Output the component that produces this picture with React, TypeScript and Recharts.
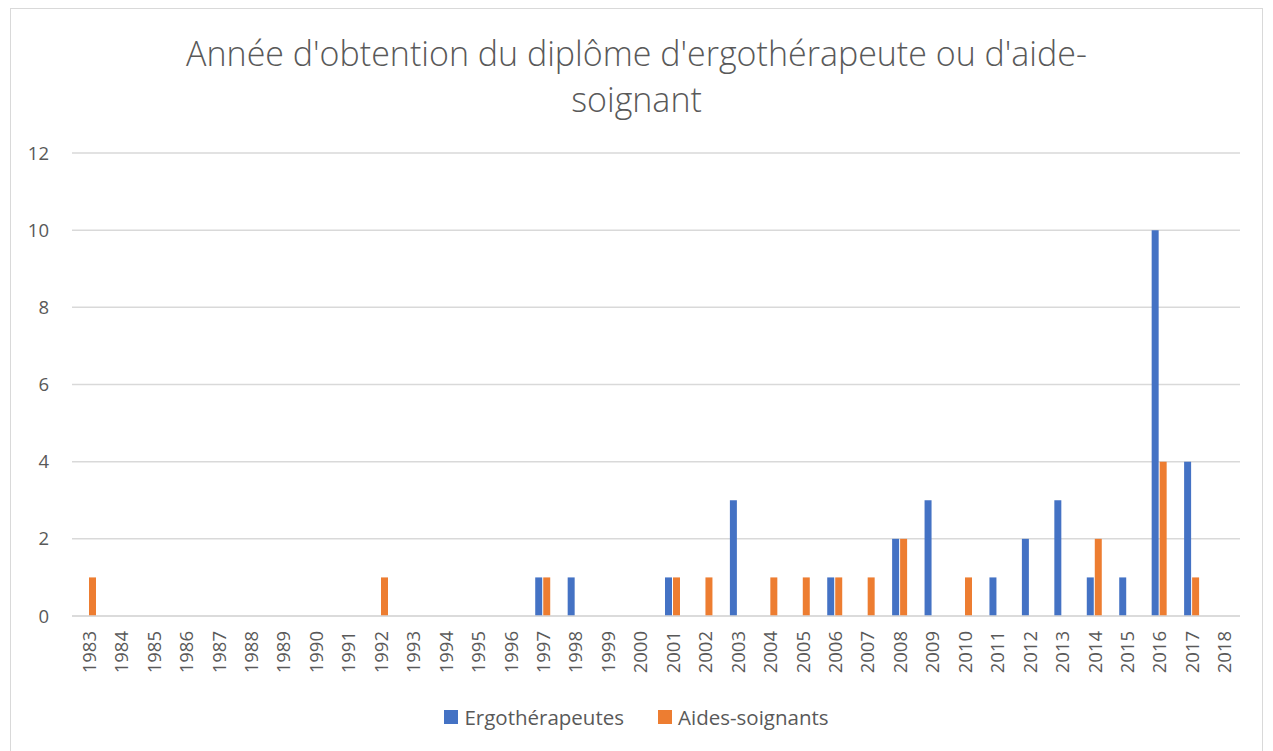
import React from "react";
import { BarChart, Bar, XAxis, YAxis, CartesianGrid } from "recharts";

const years = [
  "1983","1984","1985","1986","1987","1988","1989","1990","1991","1992","1993","1994",
  "1995","1996","1997","1998","1999","2000","2001","2002","2003","2004","2005","2006",
  "2007","2008","2009","2010","2011","2012","2013","2014","2015","2016","2017","2018",
];
const ergotherapeutes = [
  0,0,0,0,0,0,0,0,0,0,0,0,
  0,0,1,1,0,0,1,0,3,0,0,1,
  0,2,3,0,1,2,3,1,1,10,4,0,
];
const aidesSoignants = [
  1,0,0,0,0,0,0,0,0,1,0,0,
  0,0,1,0,0,0,1,1,0,1,1,1,
  1,2,0,1,0,0,0,2,0,4,1,0,
];
const yTicks = [0, 2, 4, 6, 8, 10, 12];
const seriesNames = ["Ergothérapeutes", "Aides-soignants"];
const colors = ["#4472C4", "#ED7D31"];
const titleLines = ["Année d'obtention du diplôme d'ergothérapeute ou d'aide-", "soignant"];

const data = years.map((y, i) => ({ year: y, ergo: ergotherapeutes[i], aides: aidesSoignants[i] }));

const FONT = "'Open Sans', 'Noto Sans', sans-serif";

const XTick = (props: any) => {
  const { x, y, payload } = props;
  return (
    <text
      x={x}
      y={y}
      transform={`rotate(-90, ${x}, ${y})`}
      textAnchor="end"
      dominantBaseline="central"
      fill="#595959"
      fontSize={18.5}
      fontFamily={FONT}
    >
      {payload.value}
    </text>
  );
};

export default function App() {
  return (
    <div
      style={{
        position: "relative",
        width: 1251,
        height: 743,
        marginLeft: 2,
        border: "1px solid #D9D9D9",
        background: "#fff",
        fontFamily: FONT,
      }}
    >
      <div
        style={{
          position: "absolute",
          left: 0,
          right: 0,
          top: 21,
          textAlign: "center",
          color: "#595959",
          fontSize: 34,
          lineHeight: "46px",
          fontWeight: 300,
        }}
      >
        <div>{titleLines[0]}</div>
        <div>{titleLines[1]}</div>
      </div>
      <BarChart
        width={1251}
        height={743}
        data={data}
        margin={{ top: 144, right: 22, left: 11, bottom: 66 }}
        barSize={7}
        barGap={1}
      >
        <CartesianGrid vertical={false} stroke="#D9D9D9" strokeWidth={1.5} />
        <XAxis
          dataKey="year"
          interval={0}
          height={70}
          tick={<XTick />}
          tickLine={false}
          tickSize={0}
          tickMargin={15}
          axisLine={{ stroke: "#D9D9D9", strokeWidth: 1.5 }}
        />
        <YAxis
          width={50}
          domain={[0, 12]}
          ticks={yTicks}
          interval={0}
          axisLine={false}
          tickLine={false}
          tickSize={0}
          tickMargin={23}
          tick={{ fill: "#595959", fontSize: 18.5, fontFamily: FONT }}
        />
        <Bar dataKey="ergo" name={seriesNames[0]} fill={colors[0]} isAnimationActive={false} />
        <Bar dataKey="aides" name={seriesNames[1]} fill={colors[1]} isAnimationActive={false} />
      </BarChart>
      <div
        style={{
          position: "absolute",
          left: 0,
          right: 0,
          top: 694,
          display: "flex",
          justifyContent: "center",
          gap: 34,
          fontSize: 20.5,
          color: "#595959",
        }}
      >
        {seriesNames.map((n, i) => (
          <div key={n} style={{ display: "flex", alignItems: "center", gap: 6 }}>
            <span style={{ display: "inline-block", width: 14, height: 14, background: colors[i] }} />
            <span>{n}</span>
          </div>
        ))}
      </div>
    </div>
  );
}
